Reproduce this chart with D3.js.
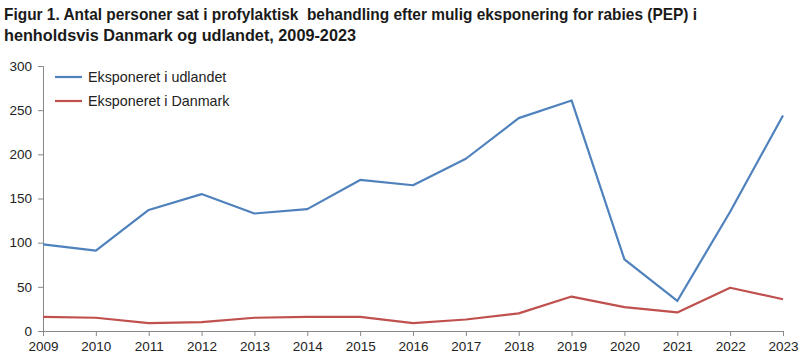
<!DOCTYPE html>
<html>
<head>
<meta charset="utf-8">
<script src="https://cdn.jsdelivr.net/npm/d3@7"></script>
<style>
  body { margin: 0; background: #fff; }
  svg text { font-family: "Liberation Sans", Arial, sans-serif; }
</style>
</head>
<body>
<div id="chart"></div>
<script>
// Data
const years = [2009, 2010, 2011, 2012, 2013, 2014, 2015, 2016, 2017, 2018, 2019, 2020, 2021, 2022, 2023];
const udlandet = [98, 91, 137, 155, 133, 138, 171, 165, 195, 241, 261, 81, 34, 135, 244];
const danmark = [16, 15, 9, 10, 15, 16, 16, 9, 13, 20, 39, 27, 21, 49, 36];
const seriesNames = ['Eksponeret i udlandet', 'Eksponeret i Danmark'];
const seriesColors = ['#4F81BD', '#C0504D'];
const yTicks = [0, 50, 100, 150, 200, 250, 300];
const titleLines = [
  'Figur 1. Antal personer sat i profylaktisk  behandling efter mulig eksponering for rabies (PEP) i',
  'henholdsvis Danmark og udlandet, 2009-2023'
];
const titleWidths = [693, 352];

const width = 800, height = 363;
const margin = {top: 66, right: 17, bottom: 32, left: 43};

const svg = d3.select('#chart').append('svg')
  .attr('width', width)
  .attr('height', height);

// Title
svg.append('g').selectAll('text')
  .data(titleLines)
  .enter()
  .append('text')
  .attr('x', 4)
  .attr('y', (d, i) => 20 + i * 21)
  .attr('font-size', 16.5)
  .attr('font-weight', 'bold')
  .attr('fill', '#1a1a1a')
  .attr('textLength', (d, i) => titleWidths[i])
  .attr('lengthAdjust', 'spacingAndGlyphs')
  .style('white-space', 'pre')
  .text(d => d);

const x = d3.scalePoint()
  .domain(years)
  .range([margin.left, width - margin.right]);

const y = d3.scaleLinear()
  .domain([0, 300])
  .range([height - margin.bottom, margin.top]);

// Axes
const yAxis = svg.append('g')
  .attr('transform', `translate(${margin.left},0)`)
  .call(d3.axisLeft(y).tickValues(yTicks).tickSize(5).tickPadding(6));

const xAxis = svg.append('g')
  .attr('transform', `translate(0,${height - margin.bottom})`)
  .call(d3.axisBottom(x).tickSize(5).tickPadding(5));

[xAxis, yAxis].forEach(ax => {
  ax.select('.domain').attr('stroke', '#888');
  ax.selectAll('.tick line').attr('stroke', '#888');
  ax.selectAll('.tick text')
    .attr('font-size', 13.5)
    .attr('fill', '#222')
    .style('font-family', '"Liberation Sans", Arial, sans-serif');
});

// Lines
const line = d3.line()
  .x((d, i) => x(years[i]))
  .y(d => y(d));

[udlandet, danmark].forEach((s, i) => {
  svg.append('path')
    .datum(s)
    .attr('fill', 'none')
    .attr('stroke', seriesColors[i])
    .attr('stroke-width', 2.2)
    .attr('stroke-linejoin', 'round')
    .attr('d', line);
});

// Legend
const legend = svg.append('g')
  .selectAll('g')
  .data(seriesNames)
  .enter()
  .append('g')
  .attr('transform', (d, i) => `translate(55,${77 + i * 24})`);

legend.append('line')
  .attr('x1', 0).attr('x2', 27)
  .attr('stroke', (d, i) => seriesColors[i])
  .attr('stroke-width', 2.2);

legend.append('text')
  .attr('x', 33)
  .attr('y', 5)
  .attr('font-size', 14.3)
  .attr('fill', '#222')
  .text(d => d);
</script>
</body>
</html>
